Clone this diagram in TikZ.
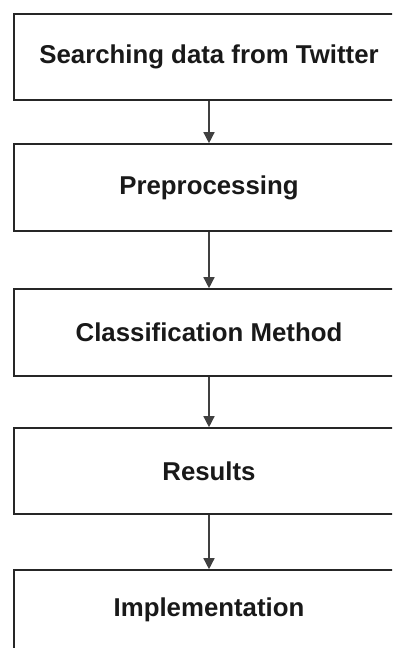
\documentclass[tikz,border=0pt]{standalone}
\usepackage{fontspec}
\setmainfont{Liberation Sans}
\usetikzlibrary{arrows.meta}
\begin{document}
\begin{tikzpicture}[x=1pt,y=-1pt,
  stepbox/.style={draw=black!85, line width=1.6pt, fill=white, rectangle,
    minimum width=390pt, inner sep=0pt,
    font=\fontsize{25.8}{30}\selectfont\bfseries, text=black!90},
  flow/.style={draw=black!75, line width=1.4pt,
    -{Triangle[width=11pt,length=11pt]}}]
  \useasboundingbox (0,0) rectangle (392,648);
  \clip (0,0) rectangle (392,648);
  \fill[white] (0,0) rectangle (392,648);
  % process steps
  \node[stepbox, minimum height=86pt] (search) at (209,57) {Searching data from Twitter};
  \node[stepbox, minimum height=87pt] (prep) at (209,187.5) {Preprocessing};
  \node[stepbox, minimum height=87pt] (classify) at (209,332.5) {Classification Method};
  \node[stepbox, minimum height=86pt] (results) at (209,471) {Results};
  \node[stepbox, minimum height=86pt] (impl) at (209,613) {\raisebox{11pt}{Implementation}};
  % connectors
  \draw[flow] (search) -- (prep);
  \draw[flow] (prep) -- (classify);
  \draw[flow] (classify) -- (results);
  \draw[flow] (results) -- (impl);
\end{tikzpicture}
\end{document}
